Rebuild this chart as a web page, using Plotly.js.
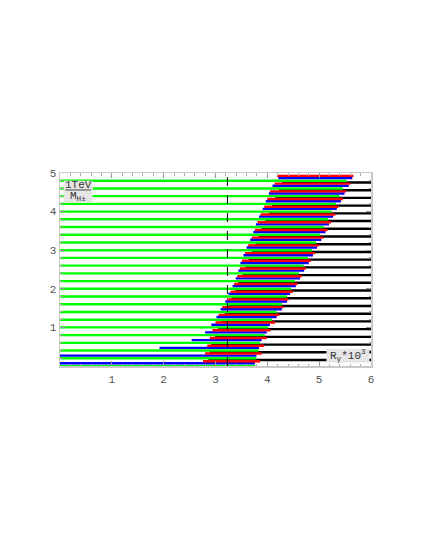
<!DOCTYPE html>
<html>
<head>
<meta charset="utf-8">
<script src="https://cdn.plot.ly/plotly-3.0.1.min.js"></script>
<style>
  html, body { margin: 0; padding: 0; background: #fff; }
  #plot { width: 425px; height: 550px; }
</style>
</head>
<body>
<div id="plot"></div>
<script>
// 1TeV / M_H+- levels (one group of four segments per level)
var levels = [0.0, 0.2, 0.4, 0.6, 0.8, 1.0, 1.2, 1.4, 1.6, 1.8, 2.0, 2.2, 2.4,
              2.6, 2.8, 3.0, 3.2, 3.4, 3.6, 3.8, 4.0, 4.2, 4.4, 4.6, 4.8];

// red bars
var redStart = [2.76, 2.80, 2.84, 2.89, 2.94, 3.00, 3.06, 3.13, 3.22, 3.29, 3.36, 3.42, 3.47,
                3.51, 3.57, 3.63, 3.70, 3.76, 3.81, 3.87, 3.94, 4.00, 4.05, 4.14, 4.19];
var redEnd   = [3.86, 3.89, 3.94, 3.99, 4.06, 4.15, 4.23, 4.31, 4.41, 4.49, 4.58, 4.66, 4.74,
                4.84, 4.92, 5.00, 5.08, 5.16, 5.23, 5.31, 5.37, 5.46, 5.52, 5.60, 5.66];

// blue bars
var blueStart = [0.00, 0.00, 1.92, 2.54, 2.80, 2.92, 3.02, 3.10, 3.19, 3.25, 3.33, 3.39, 3.44,
                 3.48, 3.54, 3.60, 3.67, 3.73, 3.78, 3.84, 3.91, 3.97, 4.03, 4.10, 4.21];
var blueEnd   = [3.76, 3.79, 3.84, 3.89, 3.99, 4.05, 4.18, 4.28, 4.38, 4.44, 4.55, 4.63, 4.71,
                 4.80, 4.88, 4.96, 5.04, 5.12, 5.19, 5.27, 5.34, 5.42, 5.49, 5.57, 5.64];

// green: from 0 up to greenEnd
var greenEnd = [3.76, 3.79, 3.83, 3.86, 3.95, 4.02, 4.09, 4.18, 4.28, 4.38, 4.46, 4.53, 4.61,
                4.70, 4.78, 4.86, 4.94, 5.02, 5.09, 5.17, 5.24, 5.32, 5.39, 5.46, 5.53];

// black: from blackStart up to the right edge
var blackStart = [2.82, 2.86, 2.89, 2.92, 2.99, 3.05, 3.12, 3.18, 3.25, 3.31, 3.38, 3.44, 3.52,
                  3.58, 3.64, 3.70, 3.77, 3.83, 3.89, 3.96, 4.03, 4.09, 4.15, 4.22, 4.28];

var refValue = 3.23;   // dashed vertical line
var xTicks = [1, 2, 3, 4, 5, 6];
var yTicks = [1, 2, 3, 4, 5];
var xMax = 6;

// small vertical offsets inside one level group
var OFF = {red: 0.125, blue: 0.07, green: 0.0, black: -0.045};

function segTrace(starts, ends, off, color) {
  var xs = [], ys = [];
  for (var i = 0; i < levels.length; i++) {
    xs.push(starts[i], ends[i], null);
    ys.push(levels[i] + off, levels[i] + off, null);
  }
  return {x: xs, y: ys, mode: 'lines', type: 'scatter',
          line: {color: color, width: 2.4}, hoverinfo: 'skip', showlegend: false};
}

var zeros = levels.map(function () { return 0; });
var rights = levels.map(function () { return xMax; });

var traces = [
  segTrace(blackStart, rights, OFF.black, '#000000'),
  segTrace(zeros, greenEnd, OFF.green, '#00ff00'),
  segTrace(blueStart, blueEnd, OFF.blue, '#0000ff'),
  segTrace(redStart, redEnd, OFF.red, '#ff0000')
];

var tickFont = {family: 'Liberation Mono, monospace', size: 11, color: '#555'};
var labFont  = {family: 'Liberation Mono, monospace', size: 11, color: '#333'};

var layout = {
  width: 425, height: 550,
  margin: {l: 60, r: 54, t: 173, b: 184},
  paper_bgcolor: 'white', plot_bgcolor: 'white',
  showlegend: false,
  xaxis: {range: [0, 6], tickvals: xTicks, ticktext: xTicks.map(String),
          showgrid: false, zeroline: false, showline: true, linecolor: '#c8c8c8',
          linewidth: 1.5, mirror: 'allticks', ticks: 'inside', ticklen: 5,
          tickcolor: '#999', minor: {dtick: 0.2, ticks: 'inside', ticklen: 2.5, tickcolor: '#aaa'},
          tickfont: tickFont, ticklabelstandoff: 2},
  yaxis: {range: [0, 5], tickvals: yTicks, ticktext: yTicks.map(String),
          showgrid: false, zeroline: false, showline: true, linecolor: '#c8c8c8',
          linewidth: 1.5, mirror: 'allticks', ticks: 'inside', ticklen: 5,
          tickcolor: '#999', minor: {dtick: 0.2, ticks: 'inside', ticklen: 2.5, tickcolor: '#aaa'},
          tickfont: tickFont},
  shapes: [
    {type: 'line', xref: 'x', yref: 'y', x0: refValue, x1: refValue, y0: 0, y1: 5,
     line: {color: '#000', width: 1, dash: 'dash'}, layer: 'above'},
    // label boxes
    {type: 'rect', xref: 'x', yref: 'y', x0: 0.07, x1: 0.63, y0: 4.24, y1: 4.80,
     fillcolor: '#e6e6e6', line: {width: 0}, layer: 'above'},
    {type: 'line', xref: 'x', yref: 'y', x0: 0.1, x1: 0.6, y0: 4.56, y1: 4.56,
     line: {color: '#444', width: 1}, layer: 'above'},
    {type: 'rect', xref: 'x', yref: 'y', x0: 5.14, x1: 5.97, y0: 0.09, y1: 0.45,
     fillcolor: '#e6e6e6', line: {width: 0}, layer: 'above'}
  ],
  annotations: [
    {x: 0.35, y: 4.69, xref: 'x', yref: 'y', text: '1TeV', showarrow: false, font: labFont},
    {x: 0.35, y: 4.40, xref: 'x', yref: 'y', text: 'M<sub>H±</sub>', showarrow: false, font: labFont},
    {x: 5.555, y: 0.27, xref: 'x', yref: 'y', text: 'R<sub>γ</sub>*10<sup>3</sup>',
     showarrow: false, font: labFont}
  ]
};

Plotly.newPlot('plot', traces, layout, {displayModeBar: false, staticPlot: true});
</script>
</body>
</html>
